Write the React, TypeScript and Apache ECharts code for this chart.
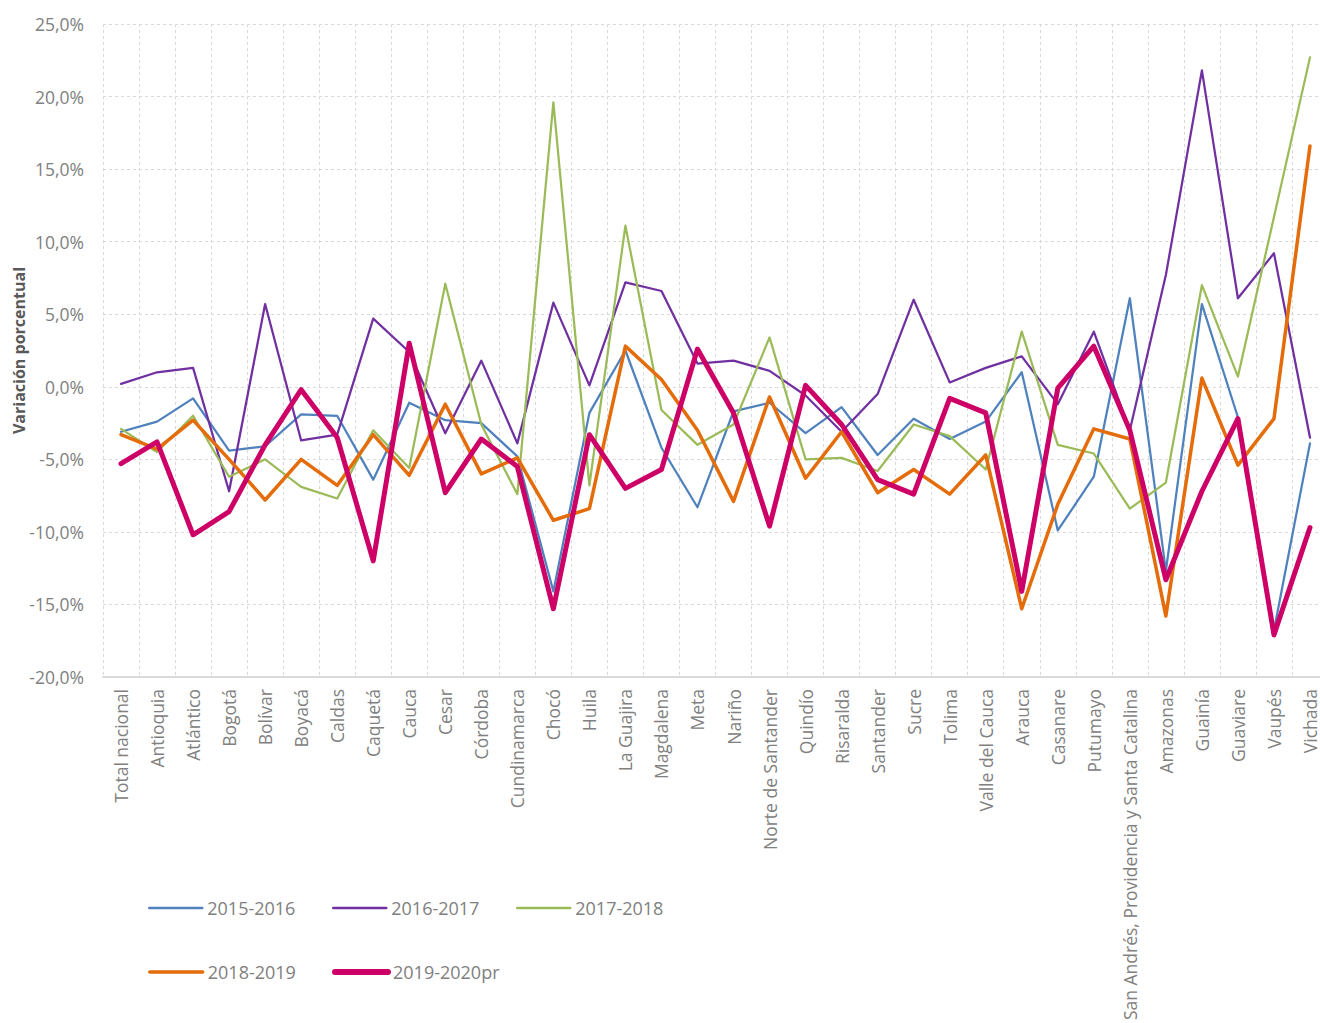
import React, { useEffect, useRef } from "react";
import * as echarts from "echarts";

// Departamentos (eje de categorías)
const categories = [
  "Total nacional", "Antioquia", "Atlántico", "Bogotá", "Bolívar", "Boyacá", "Caldas",
  "Caquetá", "Cauca", "Cesar", "Córdoba", "Cundinamarca", "Chocó", "Huila", "La Guajira",
  "Magdalena", "Meta", "Nariño", "Norte de Santander", "Quindío", "Risaralda", "Santander",
  "Sucre", "Tolima", "Valle del Cauca", "Arauca", "Casanare", "Putumayo",
  "San Andrés, Providencia y Santa Catalina", "Amazonas", "Guainía", "Guaviare", "Vaupés", "Vichada",
];

// Variación porcentual por periodo
const v2015_2016 = [-3.1, -2.4, -0.8, -4.4, -4.1, -1.9, -2.0, -6.4, -1.1, -2.3, -2.5, -4.8, -14.1, -1.8, 2.5, -4.2, -8.3, -1.7, -1.1, -3.2, -1.4, -4.7, -2.2, -3.6, -2.4, 1.0, -9.9, -6.2, 6.1, -12.7, 5.7, -2.1, -16.8, -3.9];
const v2016_2017 = [0.2, 1.0, 1.3, -7.2, 5.7, -3.7, -3.3, 4.7, 2.4, -3.2, 1.8, -3.9, 5.8, 0.1, 7.2, 6.6, 1.6, 1.8, 1.1, -0.6, -3.1, -0.5, 6.0, 0.3, 1.3, 2.1, -1.2, 3.8, -3.0, 7.7, 21.8, 6.1, 9.2, -3.5];
const v2017_2018 = [-2.9, -4.5, -2.0, -6.2, -5.0, -6.9, -7.7, -3.0, -5.6, 7.1, -2.6, -7.4, 19.6, -6.8, 11.1, -1.6, -4.0, -2.6, 3.4, -5.0, -4.9, -5.8, -2.6, -3.4, -5.7, 3.8, -4.0, -4.6, -8.4, -6.6, 7.0, 0.7, 11.7, 22.7];
const v2018_2019 = [-3.3, -4.3, -2.3, -5.0, -7.8, -5.0, -6.8, -3.3, -6.1, -1.2, -6.0, -4.9, -9.2, -8.4, 2.8, 0.5, -3.0, -7.9, -0.7, -6.3, -3.1, -7.3, -5.7, -7.4, -4.7, -15.3, -8.1, -2.9, -3.6, -15.8, 0.6, -5.4, -2.2, 16.6];
const v2019_2020pr = [-5.3, -3.8, -10.2, -8.6, -4.0, -0.2, -3.5, -12.0, 3.0, -7.3, -3.6, -5.5, -15.3, -3.3, -7.0, -5.7, 2.6, -1.8, -9.6, 0.1, -2.6, -6.4, -7.4, -0.8, -1.8, -14.1, -0.1, 2.8, -3.0, -13.3, -7.2, -2.2, -17.1, -9.7];

const seriesNames = ["2015-2016", "2016-2017", "2017-2018", "2018-2019", "2019-2020pr"];
const seriesValues = [v2015_2016, v2016_2017, v2017_2018, v2018_2019, v2019_2020pr];
const seriesColors = ["#4F81BD", "#7030A0", "#9BBB59", "#E46C0A", "#CC0066"];
const seriesWidths = [2.25, 2.25, 2.25, 3.5, 5];
const legendWidths = [2.5, 2.5, 2.5, 3.5, 6];

const yTicks = { min: -20, max: 25, interval: 5 };

const FONT = "'Open Sans', 'Noto Sans', sans-serif";
const GRAY = "#808080";
const GRID_LINE = "#d9d9d9";

// legend slots: two rows, three columns
const legendLeft = [148, 332, 516, 148, 332];
const legendTop = [899, 899, 899, 963, 963];

export default function App() {
  const ref = useRef<HTMLDivElement>(null);

  useEffect(() => {
    if (!ref.current) return;
    const chart = echarts.init(ref.current, undefined, { renderer: "svg" });

    chart.setOption({
      animation: false,
      backgroundColor: "#ffffff",
      grid: {
        left: 103,
        top: 24,
        right: 0,
        bottom: 346,
        containLabel: false,
        outerBoundsMode: "none",
      },
      legend: seriesNames.map((name, i) => ({
        data: [name],
        orient: "horizontal",
        left: legendLeft[i],
        top: legendTop[i],
        padding: 0,
        itemWidth: 53,
        itemHeight: 14,
        itemGap: 0,
        itemStyle: { opacity: 0 },
        lineStyle: { width: legendWidths[i], cap: "round" },
        textStyle: { fontFamily: FONT, fontSize: 18, color: GRAY },
      })),
      xAxis: [
        {
          type: "category",
          data: categories,
          boundaryGap: true,
          axisLine: { show: false },
          axisTick: { show: false },
          axisLabel: {
            interval: 0,
            rotate: 90,
            margin: 12,
            fontFamily: FONT,
            fontSize: 17.5,
            lineHeight: 18,
            color: GRAY,
          },
          splitLine: {
            show: true,
            interval: 0,
            lineStyle: { color: GRID_LINE, type: [3, 3], width: 1 },
          },
        },
        {
          // línea de referencia en 0 %
          type: "category",
          data: categories,
          position: "bottom",
          axisLine: { show: true, onZero: true, lineStyle: { color: GRID_LINE, width: 2 } },
          axisTick: { show: false },
          axisLabel: { show: false },
          splitLine: { show: false },
        },
      ],
      yAxis: {
        type: "value",
        min: yTicks.min,
        max: yTicks.max,
        interval: yTicks.interval,
        name: "Variación porcentual",
        nameLocation: "middle",
        nameRotate: 90,
        nameGap: 76,
        nameMoveOverlap: false,
        nameTextStyle: { fontFamily: FONT, fontSize: 16, fontWeight: "bold", color: "#595959" },
        axisLine: { show: false },
        axisTick: { show: false },
        axisLabel: {
          margin: 19,
          fontFamily: FONT,
          fontSize: 17.5,
          color: GRAY,
          formatter: (v: number) => v.toFixed(1).replace(".", ",") + "%",
        },
        splitLine: { show: true, lineStyle: { color: GRID_LINE, type: [3, 3], width: 1 } },
      },
      series: seriesNames.map((name, i) => ({
        name,
        type: "line",
        data: seriesValues[i],
        xAxisIndex: 0,
        symbol: "none",
        showSymbol: false,
        smooth: false,
        color: seriesColors[i],
        lineStyle: { color: seriesColors[i], width: seriesWidths[i], cap: "round", join: "round" },
        z: 3 + i,
      })),
    });

    return () => chart.dispose();
  }, []);

  return (
    <div
      style={{
        position: "absolute",
        left: 0,
        top: 0,
        width: 1320,
        height: 1023,
        overflow: "hidden",
        background: "#fff",
      }}
    >
      <div ref={ref} style={{ width: 1328, height: 1023 }} />
    </div>
  );
}
